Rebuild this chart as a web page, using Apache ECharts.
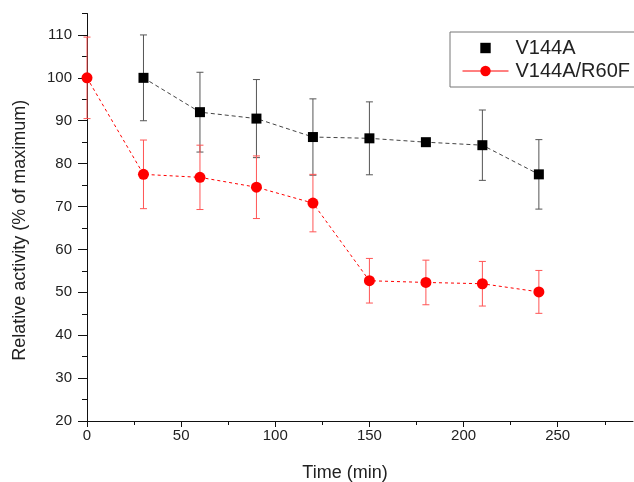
<!DOCTYPE html>
<html>
<head>
<meta charset="utf-8">
<script src="https://cdn.jsdelivr.net/npm/echarts@6/dist/echarts.min.js"></script>
<style>html,body{margin:0;padding:0;background:#fff}#c{width:634px;height:482px}</style>
</head>
<body>
<div id="c"></div>
<script>
// ---- data ----
var timeA = [30, 60, 90, 120, 150, 180, 210, 240];
var valA  = [100, 92, 90.5, 86.2, 85.9, 85.0, 84.3, 77.5];
var errA  = [10, 9.3, 9.1, 8.9, 8.5, 0, 8.2, 8.1];

var timeB = [0, 30, 60, 90, 120, 150, 180, 210, 240];
var valB  = [100, 77.5, 76.8, 74.5, 70.8, 52.7, 52.3, 52.0, 50.1];
var errB  = [9.5, 8, 7.5, 7.3, 6.7, 5.2, 5.2, 5.2, 5.0];

var xMajorTicks = [0, 50, 100, 150, 200, 250];
var xMinorTicks = [0, 25, 50, 75, 100, 125, 150, 175, 200, 225, 250, 275];
var yMajorTicks = [20, 30, 40, 50, 60, 70, 80, 90, 100, 110];

var nameA = 'V144A', nameB = 'V144A/R60F';
var FONT = "'Liberation Sans', Arial, sans-serif";

function pairs(xs, ys) { return xs.map(function (x, i) { return [x, ys[i]]; }); }
function errData(xs, ys, es) { return xs.map(function (x, i) { return [x, ys[i] - es[i], ys[i] + es[i]]; }); }

function errRender(color) {
  return function (params, api) {
    var x = api.value(0), lo = api.value(1), hi = api.value(2);
    if (hi - lo <= 0) return null;
    var t = api.coord([x, hi]), b = api.coord([x, lo]);
    var w = 3.5, st = { stroke: color, lineWidth: 1 };
    return { type: 'group', children: [
      { type: 'line', shape: { x1: t[0], y1: t[1], x2: b[0], y2: b[1] }, style: st },
      { type: 'line', shape: { x1: t[0] - w, y1: t[1], x2: t[0] + w, y2: t[1] }, style: st },
      { type: 'line', shape: { x1: b[0] - w, y1: b[1], x2: b[0] + w, y2: b[1] }, style: st }
    ]};
  };
}

var chart = echarts.init(document.getElementById('c'), null, { renderer: 'canvas' });
chart.setOption({
  animation: false,
  backgroundColor: '#fff',
  textStyle: { fontFamily: FONT },
  grid: { left: 87, right: 1, top: 13.5, bottom: 61, containLabel: false, outerBoundsMode: 'none' },
  legend: {
    left: 450, top: 32, orient: 'vertical',
    padding: [6, 12, 6, 12], itemGap: 3,
    itemWidth: 46, itemHeight: 13,
    borderColor: '#777', borderWidth: 1,
    textStyle: { fontSize: 20, color: '#222', fontFamily: FONT, padding: [0, 0, 0, 2] },
    data: [
      { name: nameA, itemStyle: { color: '#000' }, lineStyle: { opacity: 0, width: 0 } },
      { name: nameB, lineStyle: { type: 'solid', width: 1, color: '#f00' } }
    ]
  },
  xAxis: [{
    type: 'value', position: 'bottom', min: 0, max: 290,
    axisLine: { onZero: false, lineStyle: { color: '#111', width: 1 } },
    axisTick: { customValues: xMajorTicks, length: 6, lineStyle: { color: '#111' } },
    axisLabel: { customValues: xMajorTicks, fontSize: 15, color: '#222', margin: 7, fontFamily: FONT },
    splitLine: { show: false },
    name: 'Time (min)', nameLocation: 'middle', nameGap: 43,
    nameTextStyle: { fontSize: 18, color: '#222', fontFamily: FONT, padding: [0, 30, 0, 0] }
  }, {
    type: 'value', position: 'bottom', min: 0, max: 290,
    axisLine: { show: false, onZero: false },
    axisTick: { customValues: xMinorTicks, length: 4, lineStyle: { color: '#111' } },
    axisLabel: { show: false }, splitLine: { show: false }
  }],
  yAxis: [{
    type: 'value', position: 'left', min: 20, max: 115,
    axisLine: { show: true, onZero: false, lineStyle: { color: '#111', width: 1 } },
    axisTick: { show: true, customValues: yMajorTicks, length: 9, lineStyle: { color: '#111' } },
    axisLabel: { customValues: yMajorTicks, fontSize: 15, color: '#222', margin: 15, fontFamily: FONT },
    splitLine: { show: false },
    name: 'Relative activity (% of maximum)', nameLocation: 'middle', nameGap: 58,
    nameTextStyle: { fontSize: 18, color: '#222', fontFamily: FONT, padding: [0, 26, 0, 0] }
  }, {
    type: 'value', position: 'left', min: 20, max: 115, interval: 5,
    axisLine: { show: false, onZero: false },
    axisTick: { show: true, length: 5, lineStyle: { color: '#111' } },
    axisLabel: { show: false }, splitLine: { show: false }
  }],
  series: [
    { type: 'custom', name: 'errA', renderItem: errRender('#555'), data: errData(timeA, valA, errA),
      encode: { x: 0, y: [1, 2] }, z: 1, silent: true, clip: false },
    { type: 'custom', name: 'errB', renderItem: errRender('#f55'), data: errData(timeB, valB, errB),
      encode: { x: 0, y: [1, 2] }, z: 1, silent: true, clip: false },
    { type: 'line', name: nameA, data: pairs(timeA, valA), symbol: 'rect', symbolSize: 10,
      itemStyle: { color: '#000' }, lineStyle: { color: '#444', width: 1, type: [4, 3] }, z: 3 },
    { type: 'line', name: nameB, data: pairs(timeB, valB), symbol: 'circle', symbolSize: 11,
      itemStyle: { color: '#f00' }, lineStyle: { color: '#f00', width: 1, type: [3, 3] }, z: 3, clip: false }
  ]
});
</script>
</body>
</html>
